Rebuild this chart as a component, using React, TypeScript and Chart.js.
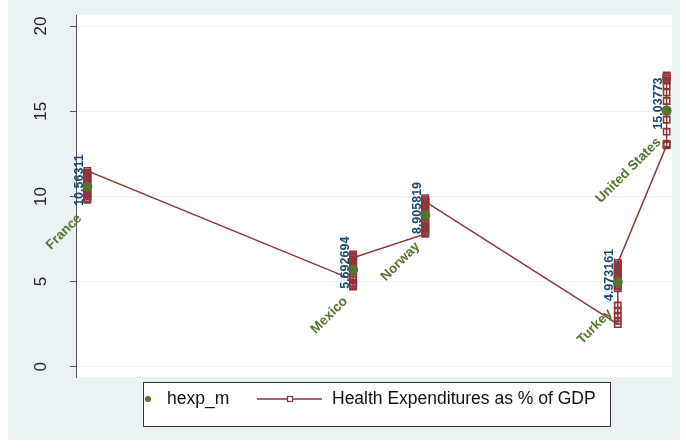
import React, { useEffect, useRef } from "react";
import { Chart, registerables } from "chart.js";

Chart.register(...registerables);

// ---- data ----
const countries = ["France", "Mexico", "Norway", "Turkey", "United States"];
const countryX = [1.9, 46.5, 58.6, 90.9, 99.1];
const meanValues = [10.56311, 5.692694, 8.905819, 4.973161, 15.03773];
const meanLabels = ["10.56311", "5.692694", "8.905819", "4.973161", "15.03773"];
const franceValues = [9.8, 9.85, 9.9, 10.0, 10.1, 10.2, 10.3, 10.4, 10.5, 10.6, 10.7, 10.8, 10.9, 11.0, 11.1, 11.15, 11.2, 11.3, 11.35, 11.4, 11.5];
const mexicoValues = [5.1, 4.9, 4.8, 4.7, 4.75, 4.9, 5.1, 5.3, 5.5, 5.6, 5.8, 5.9, 6.0, 6.1, 6.2, 6.3, 6.4, 6.5, 6.6, 6.5, 6.4];
const norwayValues = [7.8, 7.85, 7.9, 8.0, 8.1, 8.2, 8.3, 8.4, 8.5, 8.6, 8.8, 8.9, 9.0, 9.1, 9.2, 9.3, 9.4, 9.5, 9.6, 9.7, 9.8, 9.9, 9.8, 9.7];
const turkeyValues = [2.5, 2.7, 3.0, 3.3, 3.6, 4.6, 4.7, 4.8, 4.9, 5.0, 5.1, 5.2, 5.3, 5.4, 5.5, 5.6, 5.7, 5.8, 5.9, 6.0, 6.1];
const usValues = [13.0, 13.05, 13.1, 13.8, 14.5, 15.0, 15.6, 16.1, 16.5, 16.8, 16.9, 17.0, 17.05, 17.1];
const yTicks = [0, 5, 10, 15, 20];
const seriesNames = ["hexp_m", "Health Expenditures as % of GDP"];

const NAVY = "#1A476F";
const MAROON = "#90353B";
const GREEN = "#55752F";
const BG = "#EAF2F3";
const FONT = "'Liberation Sans', Arial, sans-serif";

export default function App() {
  const ref = useRef<HTMLCanvasElement | null>(null);

  useEffect(() => {
    if (!ref.current) return;
    const perCountry = [franceValues, mexicoValues, norwayValues, turkeyValues, usValues];
    const healthPoints: { x: number; y: number }[] = [];
    perCountry.forEach((vals, i) => vals.forEach((v) => healthPoints.push({ x: countryX[i], y: v })));
    const meanPoints = meanValues.map((v, i) => ({ x: countryX[i], y: v }));

    const bgPlugin = {
      id: "bgPlugin",
      beforeDraw(chart: any) {
        const { ctx, chartArea } = chart;
        ctx.save();
        ctx.fillStyle = BG;
        ctx.fillRect(0, 0, chart.width, chart.height);
        ctx.fillStyle = "#ffffff";
        ctx.fillRect(chartArea.left, chartArea.top, chartArea.right - chartArea.left, chartArea.bottom - chartArea.top);
        ctx.restore();
      },
    };

    const labelPlugin = {
      id: "labelPlugin",
      afterDatasetsDraw(chart: any) {
        const { ctx } = chart;
        const meta = chart.getDatasetMeta(0);
        ctx.save();
        meta.data.forEach((pt: any, i: number) => {
          // value label (vertical)
          ctx.save();
          ctx.translate(pt.x - 8, pt.y + 19);
          ctx.rotate(-Math.PI / 2);
          ctx.font = `bold 12.5px ${FONT}`;
          ctx.fillStyle = NAVY;
          ctx.textAlign = "left";
          ctx.textBaseline = "middle";
          ctx.fillText(meanLabels[i], 0, 0);
          ctx.restore();
          // country label (45 degrees)
          ctx.save();
          ctx.translate(pt.x - 5, pt.y + 32);
          ctx.rotate(-Math.PI / 4);
          ctx.font = `bold 13.5px ${FONT}`;
          ctx.fillStyle = GREEN;
          ctx.textAlign = "right";
          ctx.textBaseline = "alphabetic";
          ctx.fillText(countries[i], 0, 0);
          ctx.restore();
        });
        ctx.restore();
      },
    };

    const legendPlugin = {
      id: "legendPlugin",
      afterDraw(chart: any) {
        const { ctx } = chart;
        const bx = 135, by = 382, bw = 467, bh = 44;
        ctx.save();
        ctx.fillStyle = "#ffffff";
        ctx.fillRect(bx, by, bw, bh);
        ctx.strokeStyle = "#333333";
        ctx.lineWidth = 1;
        ctx.strokeRect(bx + 0.5, by + 0.5, bw, bh);
        const cy = 399;
        ctx.fillStyle = GREEN;
        ctx.beginPath();
        ctx.arc(140, cy, 3, 0, Math.PI * 2);
        ctx.fill();
        ctx.font = `17.5px ${FONT}`;
        ctx.fillStyle = "#111111";
        ctx.textAlign = "left";
        ctx.textBaseline = "middle";
        ctx.fillText(seriesNames[0], 159, cy);
        ctx.strokeStyle = MAROON;
        ctx.lineWidth = 1.5;
        ctx.beginPath();
        ctx.moveTo(249, cy);
        ctx.lineTo(314, cy);
        ctx.stroke();
        ctx.lineWidth = 1.2;
        ctx.fillStyle = "#ffffff";
        ctx.fillRect(279.5, cy - 2.5, 5, 5);
        ctx.strokeRect(279.5, cy - 2.5, 5, 5);
        ctx.fillStyle = "#111111";
        ctx.fillText(seriesNames[1], 324, cy);
        ctx.restore();
      },
    };

    const chart = new Chart(ref.current, {
      type: "scatter",
      data: {
        datasets: [
          {
            label: seriesNames[0],
            data: meanPoints,
            pointRadius: 5,
            pointHoverRadius: 5,
            pointBackgroundColor: GREEN,
            pointBorderColor: GREEN,
            pointBorderWidth: 0,
            showLine: false,
          },
          {
            label: seriesNames[1],
            data: healthPoints,
            showLine: true,
            borderColor: MAROON,
            borderWidth: 1.5,
            pointStyle: "rect",
            pointRadius: 4.4,
            pointHoverRadius: 4.4,
            pointBorderColor: MAROON,
            pointBackgroundColor: "rgba(0,0,0,0)",
            pointBorderWidth: 1.6,
          },
        ],
      },
      options: {
        animation: false,
        responsive: false,
        maintainAspectRatio: false,
        layout: { padding: { top: 15, right: 8, bottom: 63, left: 0 } },
        plugins: { legend: { display: false }, tooltip: { enabled: false } },
        scales: {
          x: { type: "linear", min: 0, max: 100, display: false },
          y: {
            type: "linear",
            min: -0.6,
            max: 20.65,
            afterBuildTicks: (scale: any) => {
              scale.ticks = yTicks.map((v) => ({ value: v }));
            },
            afterFit: (scale: any) => {
              scale.width = 68;
              scale.paddingTop = 0;
              scale.paddingBottom = 0;
            },
            ticks: {
              minRotation: 90,
              maxRotation: 90,
              crossAlign: "center",
              padding: 19,
              color: "#222222",
              font: { family: FONT, size: 17 },
            },
            grid: {
              color: BG,
              lineWidth: 1,
              tickLength: 6,
              tickColor: "#555555",
              drawTicks: true,
            },
            border: { color: "#555555", width: 1 },
          },
        },
      } as any,
      plugins: [bgPlugin, labelPlugin, legendPlugin],
    });
    return () => chart.destroy();
  }, []);

  return (
    <div style={{ position: "absolute", left: 8, top: 0, width: 672, height: 440 }}>
      <canvas ref={ref} width={672} height={440} style={{ width: 672, height: 440, display: "block" }} />
    </div>
  );
}
